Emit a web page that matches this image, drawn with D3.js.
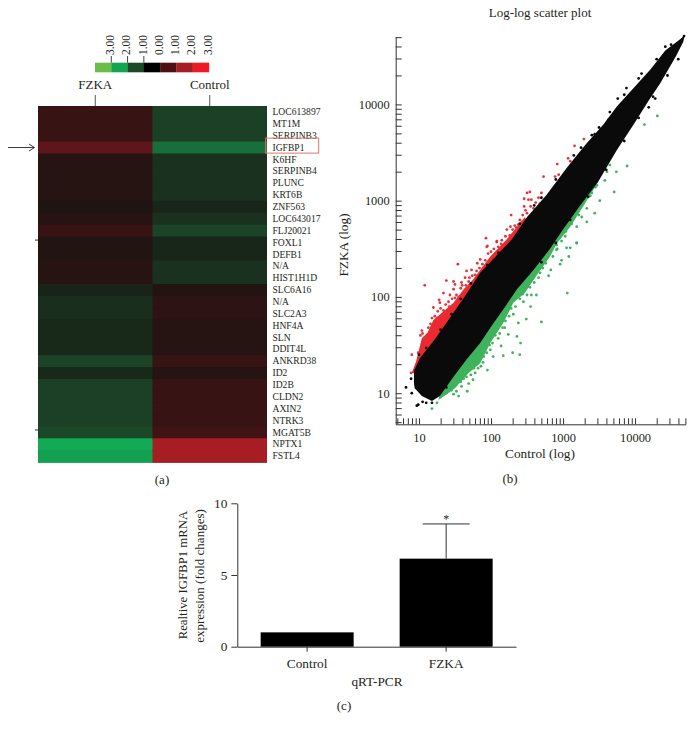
<!DOCTYPE html>
<html>
<head>
<meta charset="utf-8">
<script src="https://cdn.jsdelivr.net/npm/d3@7"></script>
<style>
  html, body { margin: 0; padding: 0; background: #fff; }
  svg { display: block; }
  text { font-family: "Liberation Serif", serif; fill: #231f20; }
</style>
</head>
<body>
<div id="chart"></div>
<script>
// panel (a) heat map
const genes = ['LOC613897', 'MT1M', 'SERPINB3', 'IGFBP1', 'K6HF', 'SERPINB4', 'PLUNC', 'KRT6B', 'ZNF563', 'LOC643017',
    'FLJ20021', 'FOXL1', 'DEFB1', 'N/A', 'HIST1H1D', 'SLC6A16', 'N/A', 'SLC2A3', 'HNF4A', 'SLN',
    'DDIT4L', 'ANKRD38', 'ID2', 'ID2B', 'CLDN2', 'AXIN2', 'NTRK3', 'MGAT5B', 'NPTX1', 'FSTL4'];
const samples = ['FZKA', 'Control'];
const fzkaValues = [0.8, 0.8, 0.8, 1.3, 0.35, 0.35, 0.35, 0.35, 0.2, 0.4,
    0.8, 0.25, 0.25, 0.4, 0.4, -0.3, -0.5, -0.5, -0.4, -0.4,
    -0.4, -0.9, -0.4, -0.85, -0.85, -0.85, -0.85, -1, -2.1, -1.9];
const controlValues = [-0.85, -0.85, -0.85, -1.4, -0.55, -0.55, -0.55, -0.55, -0.35, -0.55,
    -0.9, -0.35, -0.35, -0.55, -0.55, 0.3, 0.55, 0.55, 0.35, 0.35,
    0.35, 0.8, 0.35, 0.8, 0.8, 0.8, 0.8, 1, 2, 2];
const legendLabels = ['3.00', '2.00', '1.00', '0.00', '1.00', '2.00', '3.00'];
const legendColors = ['#6abd45', '#10a650', '#1c4a29', '#000000', '#4f1014', '#a51e24', '#ed1c24'];

// panel (b) scatter, log10 of the values
const blackOutline = [[0.93, 1.1], [0.93, 1.23], [1.01, 1.36], [1.22, 1.56], [1.38, 1.73], [1.64, 2.01], [1.85, 2.25], [2.29, 2.6],
    [2.5, 2.83], [2.77, 3.06], [3.05, 3.34], [3.31, 3.58], [3.56, 3.79], [3.75, 3.98], [3.98, 4.17], [4.21, 4.36], [4.42, 4.56], [4.63, 4.68], [4.69, 4.72],
    [4.67, 4.65], [4.56, 4.49], [4.35, 4.22], [4.19, 4.04], [3.98, 3.79], [3.75, 3.53], [3.49, 3.2], [3.21, 2.92], [3, 2.7], [2.82, 2.5],
    [2.59, 2.28], [2.36, 2.08], [2.17, 1.87], [1.99, 1.68], [1.85, 1.52], [1.66, 1.35], [1.48, 1.17], [1.29, 0.97], [1.18, 0.92], [1.04, 0.97], [0.94, 1.05]];
const redOutline = [[0.9, 1.21], [0.96, 1.33], [1.04, 1.57], [1.12, 1.63], [1.2, 1.76], [1.31, 1.83], [1.48, 1.94], [1.62, 2.08], [1.75, 2.18], [1.99, 2.42], [2.22, 2.6], [2.47, 2.83],
    [2.6, 2.6], [1.2, 1.2]];
const greenOutline = [[1.27, 0.93], [1.5, 1.05], [1.69, 1.21], [1.85, 1.31], [1.99, 1.52], [2.17, 1.73], [2.31, 1.94], [2.47, 2.04], [2.63, 2.22], [2.82, 2.42], [2.91, 2.55], [3.1, 2.73], [3.28, 2.94], [3.42, 3.11], [3.49, 3.2],
    [3, 3], [1.4, 1.4]];
const redPoints = [[1.08, 2.12], [1.54, 2.34], [1.38, 2.17], [1.48, 2.16], [1.34, 2.04], [1.28, 1.97], [1.5, 2.13], [1.2, 1.89], [1.26, 1.85], [1.81, 2.35],
    [1.85, 2.39], [1.66, 2.27], [1.64, 2.2], [1.73, 2.28], [1.78, 2.23], [1.59, 2.15], [1.95, 2.53], [1.43, 2.02], [1.52, 2.02], [1.41, 1.95],
    [0.9, 1.4], [0.89, 1.21], [0.99, 1.42], [1.04, 1.65], [1.18, 1.78], [1.29, 1.94], [2.08, 2.58], [1.89, 2.3], [1.69, 2.16], [1.48, 2.08],
    [1.93, 2.61], [1.94, 2.52], [2.08, 2.57], [2.15, 2.59], [2.22, 2.7], [2.27, 2.73], [2.33, 2.74], [2.38, 2.75], [2.28, 2.85], [2.46, 2.94],
    [2.54, 3.09], [2.5, 3.08], [2.46, 3.02], [2.52, 3.01], [2.56, 3.01], [2.73, 3.25], [2.92, 3.38], [2.89, 3.25], [2.94, 3.27], [3.07, 3.44],
    [3.1, 3.41], [3.16, 3.57], [3.29, 3.64], [2.68, 2.97], [2.59, 2.92], [2.5, 2.87], [2.43, 2.78], [2.36, 2.68], [2.26, 2.64],
    [1.02, 1.6], [1.05, 1.62], [1.08, 1.58], [1.13, 1.68], [1.16, 1.72], [1.22, 1.8], [1.25, 1.78], [1.3, 1.88], [1.34, 1.86], [1.37, 1.92],
    [1.42, 1.9], [1.46, 1.98], [1.5, 1.99], [1.55, 2], [1.58, 2.09], [1.6, 2.12], [1.65, 2.12], [1.7, 2.2], [1.74, 2.22], [1.8, 2.27],
    [1.84, 2.3], [1.88, 2.34], [1.92, 2.38], [1.96, 2.45], [2, 2.47], [2.04, 2.5], [2.1, 2.52], [2.14, 2.55], [2.2, 2.63], [2.3, 2.7],
    [2.35, 2.72], [2.4, 2.8], [2.44, 2.85], [2.48, 2.9], [2.55, 2.94], [2.62, 2.98], [2.66, 3.03], [2.7, 3.08]];
const greenPoints = [[1.18, 0.84], [1.25, 0.9], [1.55, 0.97], [1.67, 1.02], [1.48, 0.99], [1.75, 1.14], [1.95, 1.24], [1.89, 1.32], [2.03, 1.38], [2.17, 1.39],
    [2.3, 1.42], [2.4, 1.4], [2.41, 1.52], [2.7, 1.74], [3.06, 2.04], [2.14, 1.49], [2.24, 1.61], [2.36, 1.59], [2.1, 1.57], [2.38, 1.73],
    [2.49, 1.77], [2.55, 1.9], [2.19, 1.68], [2.31, 1.82], [2.63, 2.02], [2.56, 2.02], [2.45, 1.95], [2.8, 2.22], [2.98, 2.38], [2.96, 2.34],
    [3.08, 2.42], [2.83, 2.28], [3.19, 2.56], [2.91, 2.49], [2.68, 2.25], [1.99, 1.45], [1.82, 1.26], [1.78, 1.21], [1.69, 1.1], [1.59, 1.07],
    [1.5, 1.1], [1.41, 1.02], [1.94, 1.49], [4.31, 3.88], [4.13, 3.79], [3.89, 3.36], [3.74, 3.3], [3.71, 3.09], [3.65, 3.37], [3.58, 3.21],
    [3.51, 3], [3.44, 2.87], [3.33, 2.92], [3.26, 2.83], [3.33, 2.78], [3.19, 2.73], [3.19, 2.56], [3.1, 2.51], [3.05, 2.51], [3.61, 3.3],
    [3.47, 3.16], [3.4, 3.08], [3.14, 2.83], [3.05, 2.73], [2.96, 2.66], [2.91, 2.54], [3.03, 2.63],
    [1.3, 0.96], [1.35, 0.99], [1.38, 1], [1.45, 1.03], [1.52, 1.02], [1.58, 1.12], [1.62, 1.15], [1.66, 1.17], [1.72, 1.19], [1.76, 1.26],
    [1.8, 1.3], [1.86, 1.28], [1.9, 1.38], [1.94, 1.42], [1.98, 1.5], [2.02, 1.52], [2.06, 1.6], [2.12, 1.62], [2.16, 1.68], [2.2, 1.75],
    [2.25, 1.8], [2.28, 1.88], [2.34, 1.9], [2.4, 1.98], [2.44, 2.03], [2.5, 2.02], [2.54, 2.1], [2.6, 2.15], [2.66, 2.2], [2.72, 2.3],
    [2.76, 2.35], [2.86, 2.42], [2.92, 2.5], [2.98, 2.58], [3.04, 2.68], [3.12, 2.76], [3.22, 2.85], [3.3, 3], [3.38, 3.05], [3.45, 3.14]];
const blackPoints = [[0.82, 1.06], [0.99, 0.88], [0.97, 0.87], [1.05, 0.91], [1.18, 0.9], [4.68, 4.71], [4.42, 4.6], [4.19, 3.97], [4.28, 4.06], [3.88, 4.17],
    [3.76, 4.06], [3.63, 3.84], [3.44, 3.69], [4.09, 4.32],
    [1, 1.4], [1.1, 1.47], [1.3, 1.66], [1.45, 1.82], [1.58, 1.98], [1.72, 2.14], [1.95, 2.33], [2.1, 2.46], [2.4, 2.76], [2.6, 2.95],
    [2.7, 3.03], [2.9, 3.22], [3.15, 3.47], [3.25, 3.55], [3.4, 3.68], [3.5, 3.76], [3.65, 3.92], [3.85, 4.1], [4.05, 4.27], [4.3, 4.47],
    [4.5, 4.62], [4.6, 4.47], [4.45, 4.3], [4.25, 4.08], [4.05, 3.86], [3.85, 3.62], [3.6, 3.32], [3.35, 3.04], [3.1, 2.8], [2.9, 2.56],
    [2.7, 2.36], [1.1, 0.9], [0.9, 1], [0.89, 1.15], [1.38, 1.06]];
const logTicks = [5, 6, 7, 8, 9, 10, 20, 30, 40, 50, 60, 70, 80, 90, 100, 200, 300, 400, 500, 600, 700, 800, 900,
    1000, 2000, 3000, 4000, 5000, 6000, 7000, 8000, 9000, 10000, 20000, 30000, 40000, 50000];
const logLabels = [10, 100, 1000, 10000];

// panel (c) bars
const barCategories = ['Control', 'FZKA'];
const barValues = [1, 6.14];
const barErrors = [0, 2.42];
const barTicks = [0, 5, 10];

const svg = d3.select('#chart').append('svg')
    .attr('width', 694)
    .attr('height', 733);

const ink = '#333';

const addText = (x, y, str, size, anchor = 'middle', rotate = false) => {
    const t = svg.append('text')
        .attr('text-anchor', anchor)
        .attr('font-size', size)
        .text(str);
    if (rotate) {
        t.attr('transform', `translate(${x},${y}) rotate(-90)`);
    } else {
        t.attr('x', x).attr('y', y);
    }
    return t;
};

const styleAxis = (g) => {
    g.selectAll('path, line').attr('stroke', ink).attr('stroke-width', 1);
    g.selectAll('text').attr('fill', '#231f20').style('font-family', '"Liberation Serif", serif');
};

// ---- (a) heat map ----
const heatColor = d3.scaleLinear()
    .domain([-2, -1, 0, 1, 2])
    .range(['#13aa55', '#1c482a', '#161410', '#401315', '#a61e24'])
    .clamp(true);

const heatX = d3.scaleBand().domain(samples).range([38, 267]);
const heatY = d3.scaleBand().domain(d3.range(genes.length)).range([106, 462]);

[fzkaValues, controlValues].forEach((vals, s) => {
    svg.append('g').selectAll('rect')
        .data(vals)
        .enter()
        .append('rect')
        .attr('x', heatX(samples[s]))
        .attr('y', (d, i) => heatY(i))
        .attr('width', heatX.bandwidth() + (s === 0 ? 0.6 : 0))
        .attr('height', heatY.bandwidth() + (genes.length > 0 ? 0.9 : 0))
        .attr('fill', d => heatColor(d));
});

svg.append('g').selectAll('text')
    .data(genes)
    .enter()
    .append('text')
    .attr('x', 272.5)
    .attr('y', (d, i) => heatY(i) + heatY.bandwidth() / 2 + 3.2)
    .attr('font-size', 9.6)
    .attr('fill', '#333')
    .text(d => d);

// header labels and their ticks
samples.forEach(s => {
    const cx = heatX(s) + heatX.bandwidth() / 2;
    addText(cx, 89, s, 13);
    svg.append('line')
        .attr('x1', cx).attr('x2', cx).attr('y1', 95).attr('y2', 106)
        .attr('stroke', '#555');
});

// row ticks on the left side of the map
[11.3, 27.3].forEach(r => {
    const y = 106 + r * heatY.step();
    svg.append('line')
        .attr('x1', 35).attr('x2', 38).attr('y1', y).attr('y2', y)
        .attr('stroke', ink);
});

// highlighted gene box
svg.append('rect')
    .attr('x', 265.7)
    .attr('y', heatY(genes.indexOf('IGFBP1')) - 3.5)
    .attr('width', 53)
    .attr('height', 15)
    .attr('fill', 'none')
    .attr('stroke', '#e2775f')
    .attr('stroke-width', 1);

// arrow
const arrowY = heatY(genes.indexOf('IGFBP1')) + heatY.bandwidth() / 2;
svg.append('path')
    .attr('d', `M8,${arrowY}H34M29,${arrowY - 3.5}L34.5,${arrowY}L29,${arrowY + 3.5}`)
    .attr('fill', 'none')
    .attr('stroke', '#222')
    .attr('stroke-width', 0.9);

// colour legend
const legendX = d3.scaleBand().domain(d3.range(legendColors.length)).range([95, 209]);
svg.append('g').selectAll('rect')
    .data(legendColors)
    .enter()
    .append('rect')
    .attr('x', (d, i) => legendX(i))
    .attr('y', 62.7)
    .attr('width', legendX.bandwidth() + 0.2)
    .attr('height', 9.6)
    .attr('fill', d => d);

legendLabels.forEach((l, i) => {
    const x = legendX(i) + legendX.bandwidth();
    addText(x + 2.7, 55, l, 11.5, 'start', true);
    if (i < 3) {
        svg.append('line')
            .attr('x1', x).attr('x2', x).attr('y1', 56).attr('y2', 62.7)
            .attr('stroke', '#444');
    }
});

addText(162, 484, '(a)', 13);

// ---- (b) scatter ----
const scatterX = d3.scaleLog().domain([4.75, 50500]).range([395.7, 685.7]);
const scatterY = d3.scaleLog().domain([4.75, 50500]).range([424.3, 36.7]);

const outline = d3.line()
    .x(d => scatterX(Math.pow(10, d[0])))
    .y(d => scatterY(Math.pow(10, d[1])));

const drawPoints = (points, color) => {
    svg.append('g').selectAll('circle')
        .data(points)
        .enter()
        .append('circle')
        .attr('cx', d => scatterX(Math.pow(10, d[0])))
        .attr('cy', d => scatterY(Math.pow(10, d[1])))
        .attr('r', 1.4)
        .attr('fill', color);
};

svg.append('path').attr('d', outline(redOutline) + 'Z').attr('fill', '#ea2a30');
svg.append('path').attr('d', outline(greenOutline) + 'Z').attr('fill', '#3fb35c');
drawPoints(redPoints, '#e8323a');
drawPoints(greenPoints, '#3fb35c');
svg.append('path').attr('d', outline(blackOutline) + 'Z').attr('fill', '#0a0a0a');
drawPoints(blackPoints, '#0a0a0a');

const logFormat = d => logLabels.includes(d) ? d : '';

svg.append('g')
    .attr('transform', 'translate(0,424.3)')
    .call(d3.axisBottom(scatterX).tickValues(logTicks).tickFormat(logFormat).tickSizeInner(-6).tickSizeOuter(0).tickPadding(9))
    .call(styleAxis)
    .call(g => g.selectAll('text').attr('font-size', 12.4));

svg.append('g')
    .attr('transform', 'translate(395.7,0)')
    .call(d3.axisLeft(scatterY).tickValues(logTicks).tickFormat(logFormat).tickSizeInner(-6).tickSizeOuter(0).tickPadding(6))
    .call(styleAxis)
    .call(g => g.selectAll('text').attr('font-size', 12.4));

addText(540, 17, 'Log-log scatter plot', 13);
addText(540, 458, 'Control (log)', 13.3);
addText(348, 245, 'FZKA (log)', 13.3, 'middle', true);
addText(510, 483, '(b)', 13);

// ---- (c) bars ----
const barX = d3.scaleBand()
    .domain(barCategories)
    .range([237.3, 516])
    .paddingInner(0.331)
    .paddingOuter(0.168);
const barY = d3.scaleLinear().domain([0, 10]).range([646.7, 503.3]);

svg.append('g').selectAll('rect')
    .data(barValues)
    .enter()
    .append('rect')
    .attr('x', (d, i) => barX(barCategories[i]))
    .attr('y', d => barY(d))
    .attr('width', barX.bandwidth())
    .attr('height', d => barY(0) - barY(d))
    .attr('fill', '#000');

barValues.forEach((v, i) => {
    if (!barErrors[i]) return;
    const cx = barX(barCategories[i]) + barX.bandwidth() / 2;
    const top = barY(v + barErrors[i]);
    svg.append('path')
        .attr('d', `M${cx},${barY(v)}V${top}M${cx - 23.5},${top}H${cx + 23.5}`)
        .attr('fill', 'none')
        .attr('stroke', ink)
        .attr('stroke-width', 1);
    addText(cx, top - 0.5, '*', 12);
});

svg.append('g')
    .attr('transform', 'translate(0,646.7)')
    .call(d3.axisBottom(barX).tickSizeInner(5).tickSizeOuter(0).tickPadding(7))
    .call(styleAxis)
    .call(g => g.selectAll('text').attr('font-size', 13.3));

svg.append('g')
    .attr('transform', 'translate(237.3,0)')
    .call(d3.axisLeft(barY).tickValues(barTicks).tickFormat(d3.format('d')).tickSizeInner(6).tickSizeOuter(0).tickPadding(4))
    .call(styleAxis)
    .call(g => g.selectAll('text').attr('font-size', 13.3));

addText(187, 575, 'Realtive IGFBP1 mRNA', 12.8, 'middle', true);
addText(204, 576, 'expression (fold changes)', 13, 'middle', true);
addText(377, 686, 'qRT-PCR', 13.3);
addText(344, 710, '(c)', 13);
</script>
</body>
</html>
